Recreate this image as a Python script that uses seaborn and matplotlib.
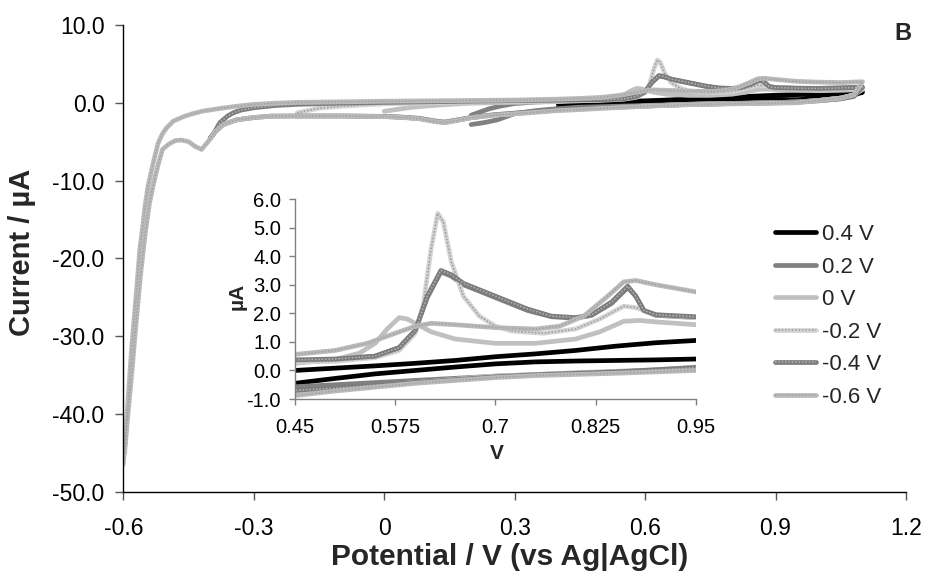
import matplotlib
matplotlib.use("Agg")
import matplotlib.pyplot as plt
from matplotlib.lines import Line2D
import seaborn as sns
import pandas as pd

# ---- cyclic voltammograms: forward sweep then reverse sweep (V, uA) ----
labels = ["0.4 V", "0.2 V", "0 V", "-0.2 V", "-0.4 V", "-0.6 V"]

v_p04 = [0.4, 0.45, 0.5, 0.55, 0.6, 0.65, 0.7, 0.75, 0.8, 0.85, 0.9, 0.95, 1.0, 1.05, 1.1,
         1.08, 1.05, 1.0, 0.95, 0.9, 0.85, 0.8, 0.75, 0.7, 0.65, 0.6, 0.55, 0.5, 0.45, 0.4]
i_p04 = [-0.1, 0.0, 0.08, 0.16, 0.25, 0.35, 0.48, 0.58, 0.7, 0.85, 0.97, 1.05, 1.1, 1.2, 1.35,
         1.0, 0.75, 0.55, 0.4, 0.37, 0.35, 0.33, 0.3, 0.23, 0.12, 0.0, -0.12, -0.28, -0.45, -0.6]

v_p02 = [0.2, 0.22, 0.24, 0.265, 0.3, 0.35, 0.4, 0.45, 0.5, 0.55, 0.58, 0.6, 0.615, 0.632, 0.645,
         0.66, 0.7, 0.74, 0.77, 0.8, 0.82, 0.845, 0.865, 0.875, 0.885, 0.9, 0.95, 1.0, 1.05, 1.1,
         1.08, 1.05, 1.0, 0.95, 0.9, 0.8, 0.7, 0.6, 0.5, 0.45, 0.4, 0.35, 0.3, 0.26, 0.23, 0.2]
i_p02 = [-1.6, -1.2, -0.8, -0.45, -0.1, 0.1, 0.22, 0.33, 0.38, 0.5, 0.8, 1.4, 2.55, 3.45, 3.3,
         3.0, 2.55, 2.1, 1.88, 1.83, 1.93, 2.35, 2.9, 2.6, 2.1, 1.93, 1.85, 1.85, 1.9, 2.0,
         0.8, 0.5, 0.25, 0.1, 0.0, -0.1, -0.2, -0.35, -0.5, -0.57, -0.75, -1.0, -1.4, -2.2, -2.55, -2.8]

v_0 = [0.0, 0.03, 0.06, 0.1, 0.15, 0.2, 0.3, 0.4, 0.45, 0.5, 0.53, 0.55, 0.565, 0.58, 0.59,
       0.6, 0.62, 0.65, 0.7, 0.75, 0.8, 0.83, 0.86, 0.88, 0.9, 0.95, 1.0, 1.05, 1.1,
       1.08, 1.05, 1.0, 0.95, 0.9, 0.8, 0.7, 0.6, 0.5, 0.45, 0.4, 0.33, 0.25, 0.2, 0.16, 0.14,
       0.12, 0.08, 0.04, 0.0]
i_0 = [-1.1, -0.85, -0.6, -0.4, -0.2, -0.05, 0.05, 0.15, 0.25, 0.38, 0.6, 0.95, 1.45, 1.85, 1.8,
       1.65, 1.35, 1.1, 0.95, 0.95, 1.1, 1.35, 1.72, 1.75, 1.7, 1.6, 1.55, 1.6, 1.7,
       1.0, 0.6, 0.3, 0.12, 0.02, -0.08, -0.2, -0.42, -0.65, -0.78, -0.9, -1.25, -1.6, -1.9, -2.3, -2.45,
       -2.35, -2.0, -1.85, -1.75]

v_m02 = [-0.2, -0.18, -0.15, -0.1, -0.05, 0.0, 0.1, 0.2, 0.3, 0.4, 0.45, 0.5, 0.55, 0.58, 0.6,
         0.61, 0.62, 0.628, 0.635, 0.645, 0.66, 0.68, 0.7, 0.72, 0.76, 0.8, 0.83, 0.86, 0.875,
         0.9, 0.95, 1.0, 1.05, 1.1,
         1.08, 1.05, 1.0, 0.95, 0.9, 0.8, 0.7, 0.6, 0.5, 0.45, 0.4, 0.33, 0.25, 0.2, 0.16, 0.14,
         0.12, 0.08, 0.04, 0.0, -0.05, -0.1, -0.15, -0.2]
i_m02 = [-1.3, -1.05, -0.7, -0.45, -0.28, -0.15, 0.0, 0.1, 0.18, 0.25, 0.3, 0.32, 0.45, 0.7, 1.3,
         2.3, 4.3, 5.5, 5.2, 3.8, 2.6, 1.9, 1.55, 1.38, 1.3, 1.45, 1.8, 2.25, 2.2,
         1.95, 1.85, 1.8, 1.85, 1.9,
         1.0, 0.6, 0.3, 0.05, -0.02, -0.1, -0.2, -0.43, -0.68, -0.82, -0.95, -1.28, -1.6, -1.92, -2.32, -2.5,
         -2.4, -2.02, -1.86, -1.76, -1.72, -1.7, -1.7, -1.72]

v_m04 = [-0.4, -0.393, -0.378, -0.36, -0.347, -0.33, -0.3, -0.25, -0.2, -0.1, 0.0, 0.1, 0.2, 0.3,
         0.4, 0.45, 0.5, 0.55, 0.58, 0.6, 0.615, 0.632, 0.645, 0.66, 0.7, 0.74, 0.77, 0.8, 0.82,
         0.845, 0.865, 0.875, 0.885, 0.9, 0.95, 1.0, 1.05, 1.1,
         1.08, 1.05, 1.0, 0.95, 0.85, 0.75, 0.7, 0.6, 0.5, 0.45, 0.4, 0.33, 0.25, 0.2, 0.16, 0.14,
         0.12, 0.08, 0.04, 0.0, -0.1, -0.2, -0.26, -0.3, -0.34, -0.37, -0.39, -0.4]
i_m04 = [-4.6, -4.07, -2.57, -1.7, -1.29, -0.95, -0.64, -0.35, -0.2, -0.05, 0.05, 0.12, 0.2, 0.27,
         0.33, 0.37, 0.4, 0.5, 0.8, 1.4, 2.6, 3.5, 3.35, 3.05, 2.6, 2.15, 1.9, 1.85, 1.95,
         2.4, 2.95, 2.6, 2.1, 1.95, 1.88, 1.85, 1.9, 2.0,
         0.9, 0.55, 0.3, 0.1, -0.05, -0.15, -0.22, -0.42, -0.62, -0.7, -0.85, -1.2, -1.55, -1.9, -2.3, -2.5,
         -2.4, -2.0, -1.85, -1.75, -1.7, -1.7, -1.72, -1.9, -2.2, -2.8, -3.8, -4.5]

v_m06 = [-0.6, -0.59, -0.581, -0.57, -0.562, -0.555, -0.55, -0.543, -0.535, -0.528, -0.52, -0.51,
         -0.5, -0.485, -0.46, -0.44, -0.417, -0.38, -0.34, -0.302, -0.25, -0.2, -0.1, 0.0, 0.1,
         0.2, 0.3, 0.4, 0.45, 0.5, 0.54, 0.57, 0.6, 0.62, 0.65, 0.7, 0.75, 0.78, 0.81, 0.84, 0.86,
         0.875, 0.9, 0.95, 1.0, 1.05, 1.1,
         1.08, 1.05, 1.0, 0.95, 0.85, 0.75, 0.7, 0.6, 0.5, 0.45, 0.4, 0.33, 0.25, 0.2, 0.16, 0.14,
         0.12, 0.08, 0.04, 0.0, -0.1, -0.2, -0.26, -0.3, -0.34, -0.37, -0.39, -0.405, -0.42,
         -0.435, -0.45, -0.465, -0.48, -0.495, -0.51, -0.52, -0.53, -0.54, -0.55, -0.56, -0.57,
         -0.58, -0.59, -0.597]
i_m06 = [-46.5, -39.0, -31.7, -24.5, -18.9, -15.8, -13.3, -10.7, -8.7, -7.0, -5.2, -4.0,
         -3.2, -2.36, -1.75, -1.4, -1.07, -0.75, -0.45, -0.22, -0.05, 0.05, 0.12, 0.2, 0.25,
         0.3, 0.35, 0.47, 0.56, 0.7, 0.95, 1.25, 1.55, 1.65, 1.6, 1.5, 1.45, 1.55, 1.9, 2.6, 3.1,
         3.15, 3.0, 2.75, 2.65, 2.6, 2.7,
         1.0, 0.6, 0.3, 0.0, -0.1, -0.18, -0.25, -0.45, -0.72, -0.88, -1.0, -1.3, -1.6, -1.93, -2.35, -2.55,
         -2.45, -2.05, -1.88, -1.78, -1.7, -1.7, -1.72, -1.9, -2.2, -2.8, -3.8, -5.0, -6.0,
         -5.6, -5.0, -4.8, -4.85, -5.3, -6.0, -8.0, -10.3, -13.0, -17.0, -22.0, -28.0,
         -34.5, -40.5, -45.0]

potentials = [v_p04, v_p02, v_0, v_m02, v_m04, v_m06]
currents = [i_p04, i_p02, i_0, i_m02, i_m04, i_m06]

main_xticks = [-0.6, -0.3, 0.0, 0.3, 0.6, 0.9, 1.2]
main_xticklabels = ["-0.6", "-0.3", "0", "0.3", "0.6", "0.9", "1.2"]
main_yticks = [-50, -40, -30, -20, -10, 0, 10]
inset_xticks = [0.45, 0.575, 0.7, 0.825, 0.95]
inset_xticklabels = ["0.45", "0.575", "0.7", "0.825", "0.95"]
inset_yticks = [-1, 0, 1, 2, 3, 4, 5, 6]

# line look per series: (base colour, texture colour or None)
styles = [("#000000", None), ("#808080", None), ("#c0c0c0", None),
          ("#d4d4d4", "#9a9a9a"), ("#7c7c7c", "#b4b4b4"), ("#bababa", "#a2a2a2")]
LW = 3.4
TEXTURE = (0, (1.0, 1.2))

sns.set_style("ticks")
plt.rcParams["font.family"] = ["Liberation Sans", "DejaVu Sans"]

fig = plt.figure(figsize=(9.29, 5.88), dpi=100)
ax = fig.add_axes([0.1327, 0.1638, 0.8425, 0.7937])
axin = fig.add_axes([0.3175, 0.3214, 0.4316, 0.3401])


def draw(target):
    for v, i, (base, tex) in zip(potentials, currents, styles):
        df = pd.DataFrame({"E": v, "I": i})
        sns.lineplot(data=df, x="E", y="I", sort=False, estimator=None, ax=target,
                     color=base, lw=LW, legend=False,
                     solid_capstyle="round", solid_joinstyle="round")
        if tex is not None:
            sns.lineplot(data=df, x="E", y="I", sort=False, estimator=None, ax=target,
                         color=tex, lw=1.1, linestyle=TEXTURE, legend=False)


draw(ax)
draw(axin)

# main axes
ax.set_xlim(-0.6, 1.2)
ax.set_ylim(-50, 10)
ax.set_xticks(main_xticks)
ax.set_xticklabels(main_xticklabels)
ax.set_yticks(main_yticks)
ax.set_yticklabels([f"{t:.1f}" for t in main_yticks])
ax.set_xlabel("")
ax.set_ylabel("")
for s in ["top", "right"]:
    ax.spines[s].set_visible(False)
for s in ["left", "bottom"]:
    ax.spines[s].set_color("#000000")
    ax.spines[s].set_linewidth(1.0)
ax.tick_params(axis="both", direction="out", length=5.5, width=1.0, color="#555555",
               labelsize=16.5, labelcolor="#000000")
ax.tick_params(axis="y", pad=8)
ax.tick_params(axis="x", pad=13)

# inset axes
axin.set_xlim(0.45, 0.95)
axin.set_ylim(-1, 6)
axin.set_xticks(inset_xticks)
axin.set_xticklabels(inset_xticklabels)
axin.set_yticks(inset_yticks)
axin.set_yticklabels([f"{t:.1f}" for t in inset_yticks])
axin.set_xlabel("")
axin.set_ylabel("")
axin.patch.set_alpha(0)
for s in ["top", "right"]:
    axin.spines[s].set_visible(False)
for s in ["left", "bottom"]:
    axin.spines[s].set_color("#808080")
    axin.spines[s].set_linewidth(1.0)
axin.tick_params(axis="both", direction="out", length=4, width=1.0, color="#808080",
                 labelsize=14.5, labelcolor="#000000")
axin.tick_params(axis="y", pad=6)
axin.tick_params(axis="x", pad=10)

# axis titles
fig.text(22 / 929, 1 - 252 / 588, "Current / µA", rotation=90, ha="center", va="center",
         fontsize=21, fontweight="bold")
fig.text(510 / 929, 1 - 565 / 588, "Potential / V (vs Ag|AgCl)", ha="center", va="baseline",
         fontsize=21.5, fontweight="bold")
fig.text(237.5 / 929, 1 - 296 / 588, "µA", rotation=90, ha="center", va="center",
         fontsize=15, fontweight="bold")
fig.text(496.5 / 929, 1 - 459 / 588, "V", ha="center", va="baseline",
         fontsize=15, fontweight="bold")
fig.text(903 / 929, 1 - 33 / 588, "B", ha="center", va="center",
         fontsize=17, fontweight="bold")

# legend
handles = []
for base, tex in styles:
    h = Line2D([], [], color=base, lw=LW)
    if tex is not None:
        h = (h, Line2D([], [], color=tex, lw=1.1, linestyle=TEXTURE))
    handles.append(h)
fig.legend(handles, labels, loc="upper left", bbox_to_anchor=(775 / 929, 1 - 224 / 588),
           frameon=False, fontsize=16, handlelength=1.85, handletextpad=0.25,
           labelspacing=0.52, borderpad=0, borderaxespad=0)

fig.savefig("out.png", dpi=100)
